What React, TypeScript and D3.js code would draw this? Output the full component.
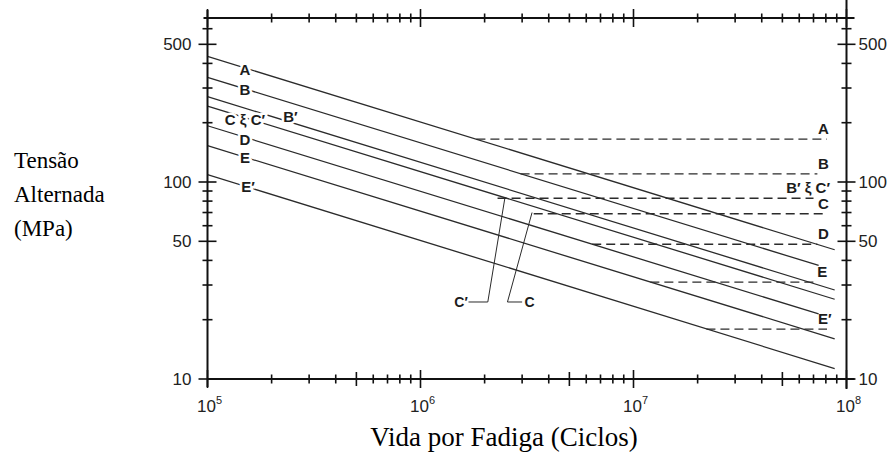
import React from "react";
import * as d3 from "d3";

const W = 896;
const H = 464;

// Plot frame (pixels)
const frame = { left: 207.5, right: 846.5, top: 18, bottom: 379 };

// S–N design curves: stress range (MPa) at 10^5 cycles and at the end of each line
const curveNames = ["A", "B", "B′", "C", "D", "E", "E′"];
const curveStressStart = [434, 340, 271, 243, 193, 153, 109];
const curveCyclesEnd = [8.8e7, 7.4e7, 8.8e7, 8.8e7, 7.4e7, 8.8e7, 8.8e7];
const curveStressEnd = [45.3, 37.7, 28.3, 25.4, 21.4, 16.0, 11.3];

// Tags written on the curves near the left edge
const curveTagText = ["A", "B", "C ξ C′", "B′", "D", "E", "E′"];
const curveTagCurve = [0, 1, 3, 2, 4, 5, 6];
const curveTagCycles = [1.5e5, 1.5e5, 1.5e5, 2.45e5, 1.5e5, 1.5e5, 1.55e5];
const curveTagShift = [2, 1, 2, -5, 3, 1, 0];

// Constant-amplitude fatigue thresholds (dashed)
const thresholdText = ["A", "B", "B′ ξ C′", "C", "D", "E", "E′"];
const thresholdStress = [165, 110, 82.7, 69, 48.3, 31, 17.9];
const thresholdCyclesStart = [1.83e6, 2.95e6, 2.3e6, 3.4e6, 6.4e6, 1.2e7, 2.2e7];
const thresholdCyclesEnd = [8.1e7, 7.3e7, 7.0e7, 8.1e7, 7.3e7, 7.3e7, 8.1e7];
const thresholdTextCycles = [7.8e7, 7.8e7, 6.6e7, 7.8e7, 7.8e7, 7.7e7, 7.9e7];

// Call-outs under the curves
const calloutText = ["C′", "C"];
const calloutAt: [number, number][] = [[1.55e6, 24.6], [3.25e6, 24.6]];
const calloutPath: [number, number][][] = [
  [[1.68e6, 24.6], [2.07e6, 24.6], [2.49e6, 83]],
  [[3.0e6, 24.6], [2.56e6, 24.6], [3.34e6, 70]],
];

// Axis ticks with labels
const xDecades = [1e5, 1e6, 1e7, 1e8];
const xDecadeExp = ["5", "6", "7", "8"];
const yLabelled = [10, 50, 100, 500];
const yDomain = [10, 680];

const x = d3.scaleLog().domain([1e5, 1e8]).range([frame.left, frame.right]);
const y = d3.scaleLog().domain(yDomain).range([frame.bottom, frame.top]);

const sans = "'Liberation Sans', Arial, Helvetica, sans-serif";
const serif = "'Liberation Serif', 'Times New Roman', Times, serif";
const ink = "#1c1c1c";
const lineInk = "#2b2b2b";

function curveValueAt(i: number, n: number) {
  const l0 = Math.log10(curveStressStart[i]);
  const l1 = Math.log10(curveStressEnd[i]);
  const t = (Math.log10(n) - 5) / (Math.log10(curveCyclesEnd[i]) - 5);
  return Math.pow(10, l0 + t * (l1 - l0));
}

export default function App() {
  const line = d3
    .line<[number, number]>()
    .x((d) => x(d[0]))
    .y((d) => y(d[1]));

  const xTicks = x.ticks();
  const yTicks = y.ticks().filter((v) => v <= 600);

  const isDecade = (v: number) => xDecades.some((d) => Math.abs(d - v) / d < 1e-6);
  const isHalf = (v: number) => xDecades.some((d) => Math.abs(d * 5 - v) / v < 1e-6);
  const isYLabelled = (v: number) => yLabelled.includes(v);

  return (
    <svg
      width={W}
      height={H}
      viewBox={`0 0 ${W} ${H}`}
      style={{ display: "block", position: "absolute", left: 0, top: 0, background: "#fff" }}
    >
      <rect x={0} y={0} width={W} height={H} fill="#fff" />

      {/* S–N curves */}
      <g fill="none" stroke={lineInk} strokeWidth={1.3}>
        {curveNames.map((name, i) => (
          <path
            key={name}
            d={line([
              [1e5, curveStressStart[i]],
              [curveCyclesEnd[i], curveStressEnd[i]],
            ]) || ""}
          />
        ))}
      </g>

      {/* thresholds */}
      <g fill="none" stroke={lineInk} strokeWidth={1.3} strokeDasharray="9 5">
        {thresholdText.map((t, i) => (
          <path
            key={t}
            d={line([
              [thresholdCyclesStart[i], thresholdStress[i]],
              [thresholdCyclesEnd[i], thresholdStress[i]],
            ]) || ""}
          />
        ))}
      </g>

      {/* call-outs */}
      <g fill="none" stroke={lineInk} strokeWidth={1}>
        {calloutPath.map((p, i) => (
          <path key={i} d={line(p) || ""} />
        ))}
      </g>
      {calloutText.map((t, i) => (
        <text
          key={t}
          x={x(calloutAt[i][0])}
          y={y(calloutAt[i][1]) + 5}
          fontFamily={sans}
          fontWeight="bold"
          fontSize={14}
          fill={ink}
          textAnchor="middle"
        >
          {t}
        </text>
      ))}

      {/* curve tags, knocked out of the lines */}
      {curveTagText.map((t, i) => {
        const n = curveTagCycles[i];
        const s = curveValueAt(curveTagCurve[i], n);
        return (
          <text
            key={t}
            x={x(n)}
            y={y(s) + curveTagShift[i] + 5}
            fontFamily={sans}
            fontWeight="bold"
            fontSize={15}
            fill={ink}
            stroke="#fff"
            strokeWidth={5}
            paintOrder="stroke"
            textAnchor="middle"
          >
            {t}
          </text>
        );
      })}

      {/* threshold tags */}
      {thresholdText.map((t, i) => (
        <text
          key={t}
          x={x(thresholdTextCycles[i])}
          y={y(thresholdStress[i]) - 5}
          fontFamily={sans}
          fontWeight="bold"
          fontSize={15}
          fill={ink}
          textAnchor="middle"
        >
          {t}
        </text>
      ))}

      {/* frame */}
      <g stroke="#111" strokeWidth={2} fill="none">
        <line x1={frame.left - 4} x2={frame.right + 8} y1={frame.top} y2={frame.top} />
        <line x1={frame.left} x2={frame.right + 8} y1={frame.bottom} y2={frame.bottom} />
        <line x1={frame.left} x2={frame.left} y1={frame.top - 8} y2={frame.bottom + 8} />
        <line x1={frame.right} x2={frame.right} y1={frame.top - 18} y2={frame.bottom + 10} />
      </g>

      {/* x ticks, top and bottom */}
      <g stroke="#111" strokeWidth={1.6}>
        {xTicks.map((v, i) => {
          const px = x(v);
          const big = isDecade(v) ? 9 : 4.5;
          const bottomLen = isDecade(v) ? 9 : isHalf(v) ? 7 : 4.5;
          return (
            <g key={i}>
              <line x1={px} x2={px} y1={frame.top - big} y2={frame.top + big} />
              <line x1={px} x2={px} y1={frame.bottom - bottomLen} y2={frame.bottom + bottomLen} />
            </g>
          );
        })}
      </g>

      {/* y ticks, left and right */}
      <g stroke="#111" strokeWidth={1.6}>
        {yTicks.map((v, i) => {
          const py = y(v);
          const len = isYLabelled(v) ? 9 : 5;
          return (
            <g key={i}>
              <line x1={frame.left - len} x2={frame.left + len} y1={py} y2={py} />
              <line x1={frame.right - len} x2={frame.right + len} y1={py} y2={py} />
            </g>
          );
        })}
      </g>

      {/* y tick labels */}
      <g fontFamily={sans} fontSize={17} fill="#222">
        {yLabelled.map((v) => (
          <g key={v}>
            <text x={frame.left - 16} y={y(v) + 6} textAnchor="end">
              {v}
            </text>
            <text x={frame.right + 12} y={y(v) + 6} textAnchor="start">
              {v}
            </text>
          </g>
        ))}
      </g>

      {/* x tick labels */}
      <g fontFamily={sans} fontSize={17} fill="#222">
        {xDecades.map((v, i) => (
          <text key={v} x={x(v) + 2} y={frame.bottom + 33} textAnchor="middle">
            <tspan>10</tspan>
            <tspan dy={-8} fontSize={11}>
              {xDecadeExp[i]}
            </tspan>
          </text>
        ))}
      </g>

      {/* axis titles */}
      <text x={504} y={446} fontFamily={serif} fontSize={27} fill="#000" textAnchor="middle">
        Vida por Fadiga (Ciclos)
      </text>
      <g fontFamily={serif} fontSize={23} fill="#000">
        <text x={14} y={168}>Tensão</text>
        <text x={14} y={202}>Alternada</text>
        <text x={14} y={236}>(MPa)</text>
      </g>
    </svg>
  );
}
